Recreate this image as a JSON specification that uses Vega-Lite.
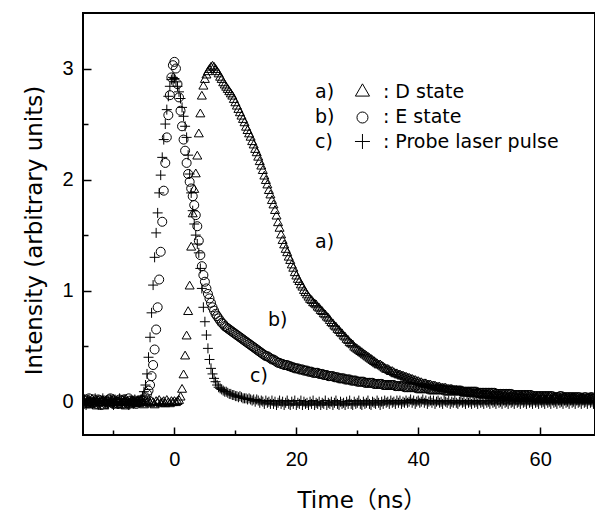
{
"$schema": "https://vega.github.io/schema/vega-lite/v6.json",
"width": 512, "height": 422,
"autosize": {"type": "none"},
"padding": {"left": 83, "top": 13, "right": 0, "bottom": 76},
"background": "white",
"config": {"view": {"stroke": "black", "strokeWidth": 2}, "axis": {"grid": false}},
"datasets": {
"curves": [
{"t":-15,"a":0.01,"b":-0.02,"c":0.0},
{"t":-14.75,"a":-0.01,"b":0.01,"c":0.02},
{"t":-14.5,"a":-0.02,"b":0.02,"c":-0.03},
{"t":-14.25,"a":0.02,"b":-0.01,"c":0.01},
{"t":-14,"a":0.0,"b":0.03,"c":0.02},
{"t":-13.75,"a":-0.02,"b":0.0,"c":-0.01},
{"t":-13.5,"a":0.03,"b":-0.01,"c":-0.02},
{"t":-13.25,"a":0.01,"b":0.02,"c":0.0},
{"t":-13,"a":-0.01,"b":0.0,"c":0.03},
{"t":-12.75,"a":-0.03,"b":-0.02,"c":0.01},
{"t":-12.5,"a":0.02,"b":0.02,"c":-0.03},
{"t":-12.25,"a":0.0,"b":0.01,"c":-0.01},
{"t":-12,"a":0.0,"b":-0.03,"c":0.01},
{"t":-11.75,"a":0.02,"b":0.0,"c":0.03},
{"t":-11.5,"a":-0.03,"b":0.01,"c":0.0},
{"t":-11.25,"a":0.01,"b":-0.02,"c":-0.02},
{"t":-11,"a":0.02,"b":0.0,"c":-0.02},
{"t":-10.75,"a":-0.01,"b":0.02,"c":0.01},
{"t":-10.5,"a":0.0,"b":0.03,"c":0.02},
{"t":-10.25,"a":0.02,"b":-0.01,"c":0.0},
{"t":-10,"a":0.03,"b":-0.02,"c":-0.03},
{"t":-9.75,"a":0.0,"b":0.01,"c":0.02},
{"t":-9.5,"a":-0.02,"b":0.0,"c":0.0},
{"t":-9.25,"a":0.01,"b":-0.02,"c":-0.02},
{"t":-9,"a":0.0,"b":0.02,"c":0.03},
{"t":-8.75,"a":-0.02,"b":0.01,"c":0.0},
{"t":-8.5,"a":0.02,"b":-0.02,"c":-0.01},
{"t":-8.25,"a":0.0,"b":0.02,"c":0.02},
{"t":-8,"a":-0.03,"b":0.0,"c":0.02},
{"t":-7.75,"a":0.01,"b":-0.01,"c":-0.02},
{"t":-7.5,"a":0.0,"b":0.03,"c":-0.03},
{"t":-7.25,"a":-0.02,"b":0.01,"c":0.01},
{"t":-7,"a":0.02,"b":-0.01,"c":0.0},
{"t":-6.75,"a":0.01,"b":0.0,"c":-0.02},
{"t":-6.5,"a":-0.01,"b":0.01,"c":0.02},
{"t":-6.25,"a":0.0,"b":-0.02,"c":0.0},
{"t":-6,"a":0.01,"b":0.0,"c":0.01},
{"t":-5.75,"a":-0.01,"b":0.01,"c":0.0},
{"t":-5.5,"a":0.02,"b":0.0,"c":0.02},
{"t":-5.25,"a":0.0,"b":0.01,"c":0.05},
{"t":-5,"a":-0.02,"b":0.02,"c":0.09},
{"t":-4.75,"a":0.01,"b":0.04,"c":0.15},
{"t":-4.5,"a":0.0,"b":0.07,"c":0.25},
{"t":-4.25,"a":0.02,"b":0.1,"c":0.4},
{"t":-4,"a":-0.01,"b":0.15,"c":0.58},
{"t":-3.75,"a":0.01,"b":0.23,"c":0.8},
{"t":-3.5,"a":0.0,"b":0.33,"c":1.05},
{"t":-3.25,"a":-0.02,"b":0.47,"c":1.3},
{"t":-3,"a":0.01,"b":0.65,"c":1.52},
{"t":-2.75,"a":0.0,"b":0.85,"c":1.7},
{"t":-2.5,"a":0.02,"b":1.1,"c":1.88},
{"t":-2.25,"a":-0.01,"b":1.35,"c":2.04},
{"t":-2,"a":0.0,"b":1.62,"c":2.2},
{"t":-1.75,"a":0.01,"b":1.9,"c":2.36},
{"t":-1.5,"a":-0.01,"b":2.15,"c":2.5},
{"t":-1.25,"a":0.02,"b":2.38,"c":2.63},
{"t":-1,"a":0.0,"b":2.58,"c":2.75},
{"t":-0.75,"a":-0.01,"b":2.76,"c":2.84},
{"t":-0.5,"a":0.01,"b":2.92,"c":2.9},
{"t":-0.25,"a":0.0,"b":3.03,"c":2.92},
{"t":0,"a":0.01,"b":3.06,"c":2.91},
{"t":0.25,"a":0.0,"b":3.0,"c":2.88},
{"t":0.5,"a":0.01,"b":2.86,"c":2.84},
{"t":0.75,"a":0.02,"b":2.74,"c":2.79},
{"t":1,"a":0.05,"b":2.62,"c":2.73},
{"t":1.25,"a":0.12,"b":2.48,"c":2.65},
{"t":1.5,"a":0.25,"b":2.36,"c":2.57},
{"t":1.75,"a":0.42,"b":2.26,"c":2.48},
{"t":2,"a":0.6,"b":2.15,"c":2.38},
{"t":2.25,"a":0.82,"b":2.05,"c":2.22},
{"t":2.5,"a":1.05,"b":1.98,"c":2.05},
{"t":2.75,"a":1.4,"b":1.92,"c":1.88},
{"t":3,"a":1.7,"b":1.85,"c":1.72},
{"t":3.25,"a":1.92,"b":1.77,"c":1.6},
{"t":3.5,"a":2.06,"b":1.68,"c":1.5},
{"t":3.75,"a":2.22,"b":1.58,"c":1.42},
{"t":4,"a":2.42,"b":1.45,"c":1.34},
{"t":4.25,"a":2.6,"b":1.32,"c":1.2},
{"t":4.5,"a":2.76,"b":1.22,"c":1.02},
{"t":4.75,"a":2.85,"b":1.14,"c":0.85},
{"t":5,"a":2.91,"b":1.08,"c":0.72},
{"t":5.25,"a":2.95,"b":1.02,"c":0.6},
{"t":5.5,"a":2.98,"b":0.97,"c":0.48},
{"t":5.75,"a":3.0,"b":0.93,"c":0.38},
{"t":6,"a":3.02,"b":0.89,"c":0.3},
{"t":6.25,"a":3.03,"b":0.85,"c":0.25},
{"t":6.5,"a":3.02,"b":0.82,"c":0.21},
{"t":6.75,"a":3.0,"b":0.79,"c":0.18},
{"t":7,"a":2.98,"b":0.77,"c":0.15},
{"t":7.25,"a":2.96,"b":0.75,"c":0.13},
{"t":7.5,"a":2.93,"b":0.73,"c":0.12},
{"t":7.75,"a":2.91,"b":0.71,"c":0.11},
{"t":8,"a":2.88,"b":0.7,"c":0.1},
{"t":8.25,"a":2.86,"b":0.68,"c":0.09},
{"t":8.5,"a":2.84,"b":0.67,"c":0.09},
{"t":8.75,"a":2.82,"b":0.66,"c":0.08},
{"t":9,"a":2.8,"b":0.65,"c":0.07},
{"t":9.25,"a":2.78,"b":0.64,"c":0.07},
{"t":9.5,"a":2.76,"b":0.63,"c":0.06},
{"t":9.75,"a":2.73,"b":0.62,"c":0.06},
{"t":10,"a":2.7,"b":0.61,"c":0.05},
{"t":10.25,"a":2.67,"b":0.6,"c":0.05},
{"t":10.5,"a":2.64,"b":0.59,"c":0.04},
{"t":10.75,"a":2.61,"b":0.58,"c":0.05},
{"t":11,"a":2.58,"b":0.57,"c":0.04},
{"t":11.25,"a":2.55,"b":0.56,"c":0.03},
{"t":11.5,"a":2.52,"b":0.55,"c":0.03},
{"t":11.75,"a":2.48,"b":0.54,"c":0.03},
{"t":12,"a":2.45,"b":0.53,"c":0.02},
{"t":12.25,"a":2.42,"b":0.52,"c":0.03},
{"t":12.5,"a":2.39,"b":0.51,"c":0.02},
{"t":12.75,"a":2.35,"b":0.5,"c":0.01},
{"t":13,"a":2.32,"b":0.49,"c":0.02},
{"t":13.25,"a":2.28,"b":0.48,"c":0.0},
{"t":13.5,"a":2.25,"b":0.47,"c":0.02},
{"t":13.75,"a":2.21,"b":0.46,"c":0.01},
{"t":14,"a":2.17,"b":0.45,"c":-0.01},
{"t":14.25,"a":2.13,"b":0.44,"c":0.01},
{"t":14.5,"a":2.09,"b":0.43,"c":0.0},
{"t":14.75,"a":2.04,"b":0.42,"c":-0.02},
{"t":15,"a":2.0,"b":0.41,"c":0.01},
{"t":15.25,"a":1.96,"b":0.41,"c":-0.01},
{"t":15.5,"a":1.91,"b":0.4,"c":0.0},
{"t":15.75,"a":1.87,"b":0.39,"c":-0.02},
{"t":16,"a":1.82,"b":0.38,"c":0.01},
{"t":16.25,"a":1.78,"b":0.38,"c":-0.02},
{"t":16.5,"a":1.73,"b":0.37,"c":0.0},
{"t":16.75,"a":1.68,"b":0.36,"c":-0.03},
{"t":17,"a":1.62,"b":0.35,"c":-0.01},
{"t":17.25,"a":1.57,"b":0.35,"c":0.01},
{"t":17.5,"a":1.51,"b":0.34,"c":-0.02},
{"t":17.75,"a":1.46,"b":0.34,"c":0.0},
{"t":18,"a":1.42,"b":0.33,"c":-0.03},
{"t":18.25,"a":1.38,"b":0.33,"c":-0.01},
{"t":18.5,"a":1.35,"b":0.33,"c":0.01},
{"t":18.75,"a":1.31,"b":0.32,"c":-0.02},
{"t":19,"a":1.28,"b":0.32,"c":-0.03},
{"t":19.25,"a":1.24,"b":0.31,"c":0.0},
{"t":19.5,"a":1.21,"b":0.31,"c":-0.02},
{"t":19.75,"a":1.17,"b":0.3,"c":0.01},
{"t":20,"a":1.14,"b":0.3,"c":-0.03},
{"t":20.25,"a":1.11,"b":0.3,"c":-0.01},
{"t":20.5,"a":1.09,"b":0.29,"c":-0.02},
{"t":20.75,"a":1.06,"b":0.29,"c":0.01},
{"t":21,"a":1.04,"b":0.29,"c":-0.03},
{"t":21.25,"a":1.01,"b":0.28,"c":0.0},
{"t":21.5,"a":0.99,"b":0.28,"c":-0.02},
{"t":21.75,"a":0.97,"b":0.28,"c":-0.01},
{"t":22,"a":0.95,"b":0.27,"c":-0.03},
{"t":22.25,"a":0.93,"b":0.27,"c":0.0},
{"t":22.5,"a":0.92,"b":0.27,"c":-0.02},
{"t":22.75,"a":0.9,"b":0.26,"c":0.01},
{"t":23,"a":0.89,"b":0.26,"c":-0.03},
{"t":23.25,"a":0.88,"b":0.26,"c":-0.01},
{"t":23.5,"a":0.86,"b":0.26,"c":-0.02},
{"t":23.75,"a":0.85,"b":0.25,"c":0.0},
{"t":24,"a":0.83,"b":0.25,"c":-0.03},
{"t":24.25,"a":0.82,"b":0.25,"c":-0.01},
{"t":24.5,"a":0.8,"b":0.24,"c":-0.02},
{"t":24.75,"a":0.79,"b":0.24,"c":0.01},
{"t":25,"a":0.77,"b":0.24,"c":-0.03},
{"t":25.25,"a":0.76,"b":0.23,"c":-0.01},
{"t":25.5,"a":0.74,"b":0.23,"c":-0.02},
{"t":25.75,"a":0.72,"b":0.23,"c":0.0},
{"t":26,"a":0.71,"b":0.23,"c":-0.03},
{"t":26.25,"a":0.69,"b":0.22,"c":-0.01},
{"t":26.5,"a":0.68,"b":0.22,"c":0.01},
{"t":26.75,"a":0.66,"b":0.22,"c":-0.02},
{"t":27,"a":0.65,"b":0.21,"c":-0.03},
{"t":27.25,"a":0.63,"b":0.21,"c":0.0},
{"t":27.5,"a":0.62,"b":0.21,"c":-0.02},
{"t":27.75,"a":0.6,"b":0.21,"c":-0.01},
{"t":28,"a":0.59,"b":0.2,"c":-0.03},
{"t":28.25,"a":0.57,"b":0.2,"c":0.0},
{"t":28.5,"a":0.56,"b":0.2,"c":-0.02},
{"t":28.75,"a":0.54,"b":0.2,"c":0.01},
{"t":29,"a":0.53,"b":0.19,"c":-0.02},
{"t":29.25,"a":0.52,"b":0.19,"c":-0.03},
{"t":29.5,"a":0.5,"b":0.19,"c":0.0},
{"t":29.75,"a":0.49,"b":0.19,"c":-0.02},
{"t":30,"a":0.48,"b":0.18,"c":-0.01},
{"t":30.25,"a":0.47,"b":0.18,"c":0.01},
{"t":30.5,"a":0.46,"b":0.18,"c":-0.02},
{"t":30.75,"a":0.45,"b":0.18,"c":-0.03},
{"t":31,"a":0.44,"b":0.18,"c":0.0},
{"t":31.25,"a":0.43,"b":0.17,"c":-0.02},
{"t":31.5,"a":0.42,"b":0.17,"c":-0.01},
{"t":31.75,"a":0.41,"b":0.17,"c":0.01},
{"t":32,"a":0.4,"b":0.17,"c":-0.02},
{"t":32.25,"a":0.39,"b":0.17,"c":-0.03},
{"t":32.5,"a":0.38,"b":0.17,"c":0.0},
{"t":32.75,"a":0.37,"b":0.16,"c":-0.01},
{"t":33,"a":0.36,"b":0.16,"c":-0.02},
{"t":33.25,"a":0.35,"b":0.16,"c":0.01},
{"t":33.5,"a":0.34,"b":0.16,"c":-0.01},
{"t":33.75,"a":0.34,"b":0.16,"c":-0.03},
{"t":34,"a":0.33,"b":0.16,"c":0.0},
{"t":34.25,"a":0.32,"b":0.15,"c":-0.02},
{"t":34.5,"a":0.31,"b":0.15,"c":0.01},
{"t":34.75,"a":0.3,"b":0.15,"c":-0.01},
{"t":35,"a":0.3,"b":0.15,"c":0.0},
{"t":35.25,"a":0.29,"b":0.15,"c":-0.02},
{"t":35.5,"a":0.28,"b":0.15,"c":0.01},
{"t":35.75,"a":0.28,"b":0.15,"c":-0.01},
{"t":36,"a":0.27,"b":0.15,"c":0.0},
{"t":36.25,"a":0.26,"b":0.14,"c":-0.02},
{"t":36.5,"a":0.26,"b":0.14,"c":0.01},
{"t":36.75,"a":0.25,"b":0.14,"c":-0.01},
{"t":37,"a":0.25,"b":0.14,"c":0.01},
{"t":37.25,"a":0.24,"b":0.14,"c":-0.02},
{"t":37.5,"a":0.24,"b":0.14,"c":0.0},
{"t":37.75,"a":0.23,"b":0.13,"c":-0.01},
{"t":38,"a":0.23,"b":0.13,"c":0.01},
{"t":38.25,"a":0.22,"b":0.13,"c":-0.01},
{"t":38.5,"a":0.22,"b":0.13,"c":0.0},
{"t":38.75,"a":0.21,"b":0.13,"c":0.02},
{"t":39,"a":0.21,"b":0.13,"c":-0.01},
{"t":39.25,"a":0.2,"b":0.13,"c":0.01},
{"t":39.5,"a":0.2,"b":0.13,"c":-0.02},
{"t":39.75,"a":0.19,"b":0.12,"c":0.0},
{"t":40,"a":0.19,"b":0.12,"c":0.01},
{"t":40.25,"a":0.18,"b":0.12,"c":-0.01},
{"t":40.5,"a":0.18,"b":0.12,"c":0.0},
{"t":40.75,"a":0.17,"b":0.12,"c":0.02},
{"t":41,"a":0.17,"b":0.12,"c":-0.01},
{"t":41.25,"a":0.17,"b":0.12,"c":0.01},
{"t":41.5,"a":0.16,"b":0.12,"c":-0.02},
{"t":41.75,"a":0.16,"b":0.11,"c":0.0},
{"t":42,"a":0.16,"b":0.11,"c":0.01},
{"t":42.25,"a":0.15,"b":0.11,"c":-0.01},
{"t":42.5,"a":0.15,"b":0.11,"c":0.01},
{"t":42.75,"a":0.15,"b":0.11,"c":-0.02},
{"t":43,"a":0.14,"b":0.11,"c":0.0},
{"t":43.25,"a":0.14,"b":0.11,"c":0.01},
{"t":43.5,"a":0.14,"b":0.11,"c":-0.01},
{"t":43.75,"a":0.13,"b":0.11,"c":0.0},
{"t":44,"a":0.13,"b":0.11,"c":-0.02},
{"t":44.25,"a":0.13,"b":0.1,"c":0.01},
{"t":44.5,"a":0.13,"b":0.1,"c":0.0},
{"t":44.75,"a":0.12,"b":0.1,"c":-0.01},
{"t":45,"a":0.12,"b":0.1,"c":0.01},
{"t":45.25,"a":0.12,"b":0.1,"c":-0.02},
{"t":45.5,"a":0.12,"b":0.1,"c":0.0},
{"t":45.75,"a":0.11,"b":0.1,"c":-0.01},
{"t":46,"a":0.11,"b":0.1,"c":0.01},
{"t":46.25,"a":0.11,"b":0.1,"c":-0.01},
{"t":46.5,"a":0.1,"b":0.1,"c":-0.02},
{"t":46.75,"a":0.1,"b":0.1,"c":0.0},
{"t":47,"a":0.1,"b":0.1,"c":0.01},
{"t":47.25,"a":0.1,"b":0.09,"c":-0.01},
{"t":47.5,"a":0.09,"b":0.09,"c":0.0},
{"t":47.75,"a":0.09,"b":0.09,"c":-0.02},
{"t":48,"a":0.09,"b":0.09,"c":0.01},
{"t":48.25,"a":0.09,"b":0.09,"c":-0.01},
{"t":48.5,"a":0.09,"b":0.09,"c":0.0},
{"t":48.75,"a":0.08,"b":0.09,"c":-0.02},
{"t":49,"a":0.08,"b":0.09,"c":0.01},
{"t":49.25,"a":0.08,"b":0.09,"c":-0.01},
{"t":49.5,"a":0.08,"b":0.09,"c":0.0},
{"t":49.75,"a":0.08,"b":0.08,"c":-0.02},
{"t":50,"a":0.08,"b":0.08,"c":0.01},
{"t":50.25,"a":0.07,"b":0.08,"c":-0.01},
{"t":50.5,"a":0.07,"b":0.08,"c":0.0},
{"t":50.75,"a":0.07,"b":0.08,"c":-0.02},
{"t":51,"a":0.07,"b":0.08,"c":0.01},
{"t":51.25,"a":0.07,"b":0.08,"c":-0.01},
{"t":51.5,"a":0.07,"b":0.08,"c":0.0},
{"t":51.75,"a":0.06,"b":0.08,"c":-0.02},
{"t":52,"a":0.06,"b":0.08,"c":0.01},
{"t":52.25,"a":0.07,"b":0.08,"c":-0.01},
{"t":52.5,"a":0.06,"b":0.08,"c":0.0},
{"t":52.75,"a":0.06,"b":0.07,"c":-0.02},
{"t":53,"a":0.06,"b":0.07,"c":0.01},
{"t":53.25,"a":0.06,"b":0.07,"c":-0.01},
{"t":53.5,"a":0.06,"b":0.07,"c":0.0},
{"t":53.75,"a":0.05,"b":0.07,"c":-0.02},
{"t":54,"a":0.05,"b":0.07,"c":0.01},
{"t":54.25,"a":0.06,"b":0.07,"c":-0.01},
{"t":54.5,"a":0.05,"b":0.07,"c":0.0},
{"t":54.75,"a":0.05,"b":0.07,"c":-0.02},
{"t":55,"a":0.05,"b":0.07,"c":0.01},
{"t":55.25,"a":0.05,"b":0.07,"c":-0.01},
{"t":55.5,"a":0.05,"b":0.06,"c":0.0},
{"t":55.75,"a":0.05,"b":0.06,"c":-0.02},
{"t":56,"a":0.05,"b":0.06,"c":0.01},
{"t":56.25,"a":0.04,"b":0.06,"c":-0.01},
{"t":56.5,"a":0.04,"b":0.06,"c":0.0},
{"t":56.75,"a":0.05,"b":0.06,"c":-0.02},
{"t":57,"a":0.05,"b":0.06,"c":0.01},
{"t":57.25,"a":0.04,"b":0.06,"c":-0.01},
{"t":57.5,"a":0.04,"b":0.06,"c":0.0},
{"t":57.75,"a":0.04,"b":0.06,"c":-0.02},
{"t":58,"a":0.04,"b":0.06,"c":0.01},
{"t":58.25,"a":0.05,"b":0.06,"c":-0.01},
{"t":58.5,"a":0.04,"b":0.06,"c":0.0},
{"t":58.75,"a":0.04,"b":0.05,"c":-0.02},
{"t":59,"a":0.04,"b":0.05,"c":0.01},
{"t":59.25,"a":0.04,"b":0.05,"c":-0.01},
{"t":59.5,"a":0.04,"b":0.05,"c":0.0},
{"t":59.75,"a":0.03,"b":0.05,"c":-0.02},
{"t":60,"a":0.03,"b":0.05,"c":0.01},
{"t":60.25,"a":0.04,"b":0.05,"c":-0.01},
{"t":60.5,"a":0.04,"b":0.05,"c":0.0},
{"t":60.75,"a":0.03,"b":0.05,"c":-0.02},
{"t":61,"a":0.03,"b":0.05,"c":0.01},
{"t":61.25,"a":0.04,"b":0.05,"c":-0.01},
{"t":61.5,"a":0.04,"b":0.05,"c":0.0},
{"t":61.75,"a":0.03,"b":0.05,"c":-0.02},
{"t":62,"a":0.03,"b":0.05,"c":0.01},
{"t":62.25,"a":0.04,"b":0.04,"c":-0.01},
{"t":62.5,"a":0.04,"b":0.04,"c":0.0},
{"t":62.75,"a":0.03,"b":0.04,"c":-0.02},
{"t":63,"a":0.03,"b":0.04,"c":0.01},
{"t":63.25,"a":0.03,"b":0.05,"c":-0.01},
{"t":63.5,"a":0.03,"b":0.05,"c":0.0},
{"t":63.75,"a":0.04,"b":0.04,"c":-0.02},
{"t":64,"a":0.04,"b":0.04,"c":0.01},
{"t":64.25,"a":0.03,"b":0.04,"c":-0.01},
{"t":64.5,"a":0.03,"b":0.04,"c":0.0},
{"t":64.75,"a":0.03,"b":0.04,"c":-0.02},
{"t":65,"a":0.03,"b":0.04,"c":0.01},
{"t":65.25,"a":0.04,"b":0.04,"c":-0.01},
{"t":65.5,"a":0.04,"b":0.04,"c":0.0},
{"t":65.75,"a":0.03,"b":0.04,"c":-0.02},
{"t":66,"a":0.03,"b":0.04,"c":0.01},
{"t":66.25,"a":0.03,"b":0.04,"c":-0.01},
{"t":66.5,"a":0.03,"b":0.04,"c":0.0},
{"t":66.75,"a":0.04,"b":0.03,"c":-0.02},
{"t":67,"a":0.04,"b":0.03,"c":0.01},
{"t":67.25,"a":0.03,"b":0.04,"c":-0.01},
{"t":67.5,"a":0.03,"b":0.04,"c":0.0},
{"t":67.75,"a":0.03,"b":0.03,"c":-0.02},
{"t":68,"a":0.03,"b":0.03,"c":0.01},
{"t":68.25,"a":0.04,"b":0.04,"c":-0.01},
{"t":68.5,"a":0.04,"b":0.04,"c":0.0},
{"t":68.75,"a":0.03,"b":0.03,"c":-0.02},
{"t":69,"a":0.03,"b":0.03,"c":0.01}
],
"texts": [
{"x":23.06,"y":2.735,"label":"a)"},
{"x":23.06,"y":2.509,"label":"b)"},
{"x":23.06,"y":2.284,"label":"c)"},
{"x":34.2,"y":2.735,"label":": D state"},
{"x":34.2,"y":2.509,"label":": E state"},
{"x":34.2,"y":2.284,"label":": Probe laser pulse"},
{"x":23.06,"y":1.384,"label":"a)"},
{"x":15.35,"y":0.681,"label":"b)"},
{"x":12.4,"y":0.177,"label":"c)"}
]
},
"resolve": {"axis": {"x": "independent", "y": "independent"}},
"layer": [
{
"data": {"name": "curves"},
"mark": {"type": "point", "shape": "triangle-up", "size": 81, "filled": false, "stroke": "black", "strokeWidth": 1, "opacity": 1, "clip": true},
"encoding": {
"x": {"field": "t", "type": "quantitative", "scale": {"domain": [-15, 69], "nice": false, "zero": false},
"axis": {"orient": "bottom", "values": [0, 20, 40, 60], "ticks": false, "domain": false, "labelFont": "Liberation Sans", "labelFontSize": 20, "labelColor": "black", "labelBaseline": "alphabetic", "labelPadding": 30, "labelFlush": false,
"title": "Time（ns）", "titleFont": "DejaVu Sans, Noto Sans CJK JP", "titleFontSize": 23, "titleFontWeight": "normal", "titleColor": "black", "titleX": 214, "titleY": 72, "titleAlign": "left", "titleBaseline": "alphabetic"}},
"y": {"field": "a", "type": "quantitative", "scale": {"domain": [-0.3, 3.5], "nice": false, "zero": false},
"axis": {"orient": "left", "values": [0, 1, 2, 3], "ticks": false, "domain": false, "labelFont": "Liberation Sans", "labelFontSize": 20, "labelColor": "black", "labelPadding": 10, "labelBaseline": "middle", "labelFlush": false,
"title": "Intensity (arbitrary units)", "titleFont": "DejaVu Sans", "titleFontSize": 23, "titleFontWeight": "normal", "titleColor": "black", "titleX": -42, "titleY": 217, "titleAlign": "center", "titleBaseline": "alphabetic", "titleAngle": -90}}
}
},
{
"data": {"name": "curves"},
"mark": {"type": "point", "shape": "circle", "size": 81, "filled": false, "stroke": "black", "strokeWidth": 1, "opacity": 1, "clip": true},
"encoding": {
"x": {"field": "t", "type": "quantitative", "axis": {"orient": "bottom", "values": [0, 20, 40, 60], "labels": false, "domain": false, "ticks": true, "tickSize": -8, "tickWidth": 1.5, "tickColor": "black", "title": null}},
"y": {"field": "b", "type": "quantitative", "axis": {"orient": "left", "values": [0, 1, 2, 3], "labels": false, "domain": false, "ticks": true, "tickSize": -8, "tickWidth": 1.5, "tickColor": "black", "title": null}}
}
},
{
"data": {"name": "curves"},
"mark": {"type": "point", "shape": "M-1,0H1M0,-1V1", "size": 100, "filled": false, "stroke": "black", "strokeWidth": 1, "opacity": 1, "clip": true},
"encoding": {
"x": {"field": "t", "type": "quantitative", "axis": {"orient": "bottom", "values": [-10, 10, 30, 50], "labels": false, "domain": false, "ticks": true, "tickSize": -5, "tickWidth": 1.5, "tickColor": "black", "title": null}},
"y": {"field": "c", "type": "quantitative", "axis": {"orient": "left", "values": [0.5, 1.5, 2.5], "labels": false, "domain": false, "ticks": true, "tickSize": -5, "tickWidth": 1.5, "tickColor": "black", "title": null}}
}
},
{
"data": {"values": [{"x": 30.85, "y": 2.807}]},
"mark": {"type": "point", "shape": "triangle-up", "size": 200, "filled": false, "stroke": "black", "strokeWidth": 1, "opacity": 1},
"encoding": {"x": {"field": "x", "type": "quantitative", "axis": null}, "y": {"field": "y", "type": "quantitative", "axis": null}}
},
{
"data": {"values": [{"x": 30.85, "y": 2.559}]},
"mark": {"type": "point", "shape": "circle", "size": 121, "filled": false, "stroke": "black", "strokeWidth": 1, "opacity": 1},
"encoding": {"x": {"field": "x", "type": "quantitative", "axis": null}, "y": {"field": "y", "type": "quantitative", "axis": null}}
},
{
"data": {"values": [{"x": 30.85, "y": 2.343}]},
"mark": {"type": "point", "shape": "M-1,0H1M0,-1V1", "size": 225, "filled": false, "stroke": "black", "strokeWidth": 1, "opacity": 1},
"encoding": {"x": {"field": "x", "type": "quantitative", "axis": null}, "y": {"field": "y", "type": "quantitative", "axis": null}}
},
{
"data": {"name": "texts"},
"mark": {"type": "text", "align": "left", "baseline": "alphabetic", "font": "DejaVu Sans", "fontSize": 19, "color": "black"},
"encoding": {"x": {"field": "x", "type": "quantitative", "axis": null}, "y": {"field": "y", "type": "quantitative", "axis": null}, "text": {"field": "label"}}
}
]
}
